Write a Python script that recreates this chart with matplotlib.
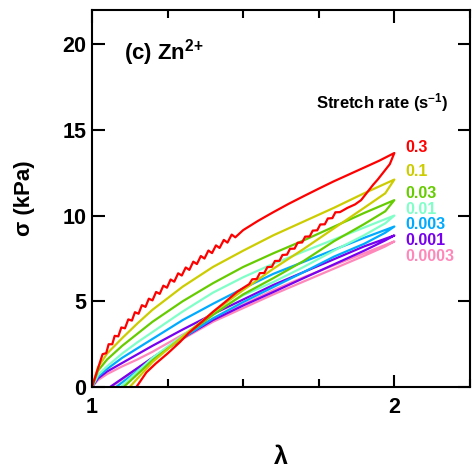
import matplotlib
matplotlib.use('Agg')
import matplotlib.pyplot as plt
from matplotlib.ticker import MultipleLocator

plt.rcParams['font.family'] = ['Liberation Sans', 'DejaVu Sans']
plt.rcParams['font.weight'] = 'bold'
plt.rcParams['axes.labelweight'] = 'bold'
plt.rcParams['mathtext.fontset'] = 'custom'
plt.rcParams['mathtext.rm'] = 'Liberation Sans:bold'
plt.rcParams['mathtext.bf'] = 'Liberation Sans:bold'
plt.rcParams['mathtext.default'] = 'bf'

# stretch rates (1/s) and colours, slowest first so the red loop sits on top
rates = ['0.0003', '0.001', '0.003', '0.01', '0.03', '0.1', '0.3']
colours = ['#ff88bb', '#7700ee', '#00aaff', '#80ffc8', '#66cc00', '#cccc00', '#ff0000']

# loading branch, common stretch grid
load_lam = [1.0, 1.02, 1.05, 1.1, 1.15, 1.2, 1.3, 1.4, 1.5, 1.6, 1.7, 1.8, 1.9, 2.0]
load_0003 = [0, 0.40, 0.75, 1.20, 1.60, 2.05, 3.05, 3.95, 4.80, 5.65, 6.40, 7.10, 7.80, 8.49]
load_001 = [0, 0.50, 0.90, 1.40, 1.90, 2.40, 3.35, 4.25, 5.10, 5.95, 6.70, 7.45, 8.20, 8.84]
load_003 = [0, 0.60, 1.05, 1.70, 2.25, 2.80, 3.90, 4.85, 5.75, 6.60, 7.30, 8.00, 8.70, 9.36]
load_01 = [0, 0.70, 1.20, 1.95, 2.60, 3.20, 4.40, 5.50, 6.40, 7.19, 7.90, 8.60, 9.30, 10.0]
load_03 = [0, 0.95, 1.60, 2.40, 3.10, 3.80, 5.00, 6.05, 7.00, 7.80, 8.55, 9.35, 10.15, 10.9]
load_1 = [0, 1.15, 1.95, 2.85, 3.70, 4.50, 5.85, 7.00, 7.95, 8.85, 9.65, 10.45, 11.3, 12.1]

# unloading branch, common grid then the stretch where stress returns to zero
unload_lam = [2.0, 1.97, 1.9, 1.8, 1.7, 1.6, 1.5, 1.4, 1.3, 1.2]
unload_0003 = [8.49, 8.20, 7.65, 6.90, 6.15, 5.40, 4.60, 3.80, 2.80, 1.70]
unload_001 = [8.84, 8.55, 7.95, 7.15, 6.35, 5.54, 4.75, 3.90, 2.85, 1.70]
unload_003 = [9.36, 9.00, 8.35, 7.60, 6.70, 5.83, 4.95, 4.00, 2.85, 1.60]
unload_01 = [10.0, 9.55, 8.85, 7.95, 7.00, 6.12, 5.35, 4.30, 3.00, 1.70]
unload_03 = [10.9, 10.25, 9.50, 8.50, 7.35, 6.35, 5.40, 4.20, 2.90, 1.55]
unload_1 = [12.1, 11.3, 10.45, 9.25, 8.05, 6.90, 5.65, 4.35, 2.95, 1.45]
zero_lam = [1.064, 1.06, 1.08, 1.095, 1.105, 1.125]

# 0.3 /s loop is jagged, so it gets its own points
red_load_lam = [1.000, 1.035, 1.047, 1.055, 1.067, 1.075, 1.087, 1.097, 1.109, 1.120,
                1.132, 1.142, 1.154, 1.165, 1.177, 1.188, 1.200, 1.212, 1.224, 1.236,
                1.248, 1.260, 1.272, 1.285, 1.297, 1.310, 1.322, 1.335, 1.347, 1.360,
                1.372, 1.385, 1.397, 1.410, 1.422, 1.436, 1.448, 1.462, 1.474, 1.50,
                1.55, 1.60, 1.65, 1.70, 1.75, 1.80, 1.85, 1.90, 1.95, 2.00]
red_load_sig = [0.00, 1.91, 1.97, 2.49, 2.49, 2.98, 2.95, 3.47, 3.42, 3.94,
                3.87, 4.36, 4.27, 4.77, 4.67, 5.15, 5.05, 5.54, 5.43, 5.91,
                5.79, 6.27, 6.14, 6.63, 6.50, 6.97, 6.83, 7.31, 7.17, 7.64,
                7.49, 7.96, 7.81, 8.26, 8.11, 8.58, 8.42, 8.89, 8.73, 9.15,
                9.70, 10.2, 10.68, 11.13, 11.57, 12.0, 12.4, 12.8, 13.2, 13.65]
red_unload_lam = [2.000, 1.985, 1.965, 1.945, 1.930, 1.910, 1.890, 1.870, 1.845,
                  1.820, 1.805, 1.795, 1.780, 1.770, 1.755, 1.745, 1.730, 1.720, 1.705,
                  1.695, 1.680, 1.670, 1.655, 1.645, 1.630, 1.620, 1.605, 1.595, 1.580,
                  1.570, 1.555, 1.545, 1.530, 1.520, 1.48, 1.44, 1.40, 1.36, 1.32,
                  1.29, 1.25, 1.21, 1.18, 1.147]
red_unload_sig = [13.65, 13.0, 12.55, 12.1, 11.8, 11.35, 10.9, 10.65, 10.45,
                  10.20, 10.19, 9.85, 9.83, 9.49, 9.48, 9.14, 9.12, 8.78, 8.77,
                  8.43, 8.41, 8.07, 8.06, 7.72, 7.70, 7.36, 7.35, 7.01, 6.99,
                  6.65, 6.64, 6.30, 6.28, 6.00, 5.55, 4.95, 4.38, 3.75, 3.15,
                  2.60, 1.95, 1.35, 0.85, 0.0]

loads = [load_0003, load_001, load_003, load_01, load_03, load_1]
unloads = [unload_0003, unload_001, unload_003, unload_01, unload_03, unload_1]

fig = plt.figure(figsize=(4.73, 4.73), dpi=100)
ax = fig.add_axes([0.1945, 0.182, 0.799, 0.797])

for i in range(6):
    x = load_lam + unload_lam + [zero_lam[i]]
    y = loads[i] + unloads[i] + [0]
    ax.plot(x, y, color=colours[i], lw=1.6)
ax.plot(red_load_lam + red_unload_lam, red_load_sig + red_unload_sig,
        color=colours[6], lw=1.6)

ax.set_xlim(1, 2.25)
ax.set_ylim(0, 22)
ax.xaxis.set_major_locator(MultipleLocator(1))
ax.xaxis.set_minor_locator(MultipleLocator(0.25))
ax.yaxis.set_major_locator(MultipleLocator(5))
ax.tick_params(which='both', direction='in', top=True, right=True, width=1.5,
               labelsize=15.5)
ax.tick_params(which='major', length=9)
ax.tick_params(which='minor', length=5.5)
ax.tick_params(axis='x', pad=7)
ax.tick_params(axis='y', pad=4)
for s in ax.spines.values():
    s.set_linewidth(1.5)

ax.set_xlabel('λ', fontsize=18, labelpad=20)
ax.set_ylabel('σ (kPa)', fontsize=16, labelpad=20)

ax.text(1.106, 19.5, r'(c) Zn$^{2{+}}$', fontsize=16, va='center')
ax.text(2.18, 16.6, r'Stretch rate (s$^{-1}$)', fontsize=12, ha='right', va='center')

# rate labels to the right of the loop tips, fastest at the top
label_y = [7.62, 8.55, 9.48, 10.35, 11.28, 12.56, 13.95]
for i in range(7):
    ax.text(2.036, label_y[i], rates[i], color=colours[i], fontsize=11.5,
            va='center')

fig.savefig('out.png', dpi=100)
